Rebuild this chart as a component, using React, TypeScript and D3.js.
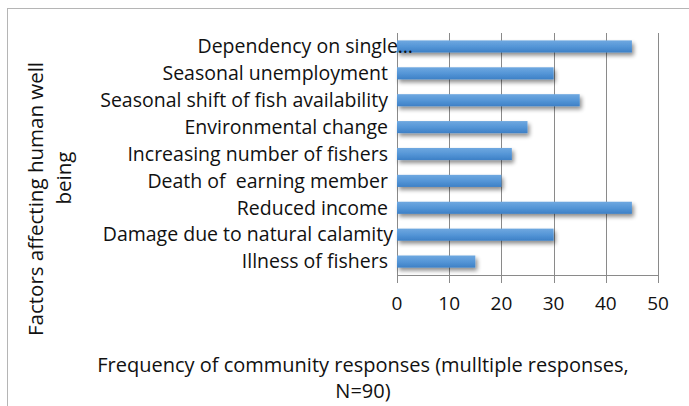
import React from "react";
import * as d3 from "d3";

// Factors (top to bottom) and number of community responses for each
const factors = [
  "Dependency on single\u2026",
  "Seasonal unemployment ",
  "Seasonal shift of fish availability ",
  "Environmental change ",
  "Increasing number of fishers ",
  "Death of  earning member ",
  "Reduced income ",
  "Damage due to natural calamity",
  "Illness of fishers ",
];
const responses = [45, 30, 35, 25, 22, 20, 45, 30, 15];
const xTicks = [0, 10, 20, 30, 40, 50];
const xTitle = ["Frequency of community responses (mulltiple responses,", "N=90)"];
const yTitle = ["Factors affecting human well", "being"];

const W = 689;
const H = 406;
const FONT = "'Open Sans', 'Noto Sans', sans-serif";

export default function App() {
  const x = d3.scaleLinear().domain([0, 50]).range([397, 658]);
  const y = d3.scaleBand<string>().domain(factors).range([33, 275]).paddingInner(0.55).paddingOuter(0.275);
  const grid = "#8a8a8a";

  return (
    <svg width={W} height={H} style={{ position: "absolute", left: 0, top: 0, background: "#fff" }}>
      <defs>
        <linearGradient id="barFill" x1="0" y1="0" x2="0" y2="1">
          <stop offset="0" stopColor="#6fa8e0" />
          <stop offset="0.5" stopColor="#5596d7" />
          <stop offset="1" stopColor="#3d80c6" />
        </linearGradient>
        <filter id="barShadow" x="-10%" y="-40%" width="120%" height="220%">
          <feGaussianBlur in="SourceAlpha" stdDeviation="2" />
          <feOffset dx="2" dy="3" result="off" />
          <feComponentTransfer>
            <feFuncA type="linear" slope="0.45" />
          </feComponentTransfer>
          <feMerge>
            <feMergeNode />
            <feMergeNode in="SourceGraphic" />
          </feMerge>
        </filter>
      </defs>

      {/* chart area border */}
      <rect x={7.5} y={8.5} width={W + 20} height={H + 20} fill="none" stroke="#b5b5b5" strokeWidth={1} />

      {/* vertical gridlines */}
      {xTicks.map((t) => (
        <line key={"g" + t} x1={Math.round(x(t)) + 0.5} x2={Math.round(x(t)) + 0.5} y1={33} y2={283} stroke={grid} strokeWidth={1} />
      ))}
      {/* bottom axis line */}
      <line x1={x(0)} x2={x(50) + 0.5} y1={275.5} y2={275.5} stroke={grid} strokeWidth={1} />

      {/* bars */}
      {factors.map((f, i) => (
        <rect
          key={f}
          x={x(0)}
          y={y(f)!}
          width={x(responses[i]) - x(0)}
          height={y.bandwidth()}
          fill="url(#barFill)"
          filter="url(#barShadow)"
        />
      ))}

      {/* category labels */}
      {factors.map((f) => (
        <text
          key={"l" + f}
          x={f.endsWith("\u2026") ? 413 : 393}
          y={y(f)! + y.bandwidth() / 2}
          dy="0.35em"
          textAnchor="end"
          fontFamily={FONT}
          fontSize={19.5}
          fill="#111"
          style={{ whiteSpace: "pre" }}
        >
          {f}
        </text>
      ))}

      {/* tick labels */}
      {xTicks.map((t) => (
        <text key={"t" + t} x={x(t)} y={303} dy="0.35em" textAnchor="middle" fontFamily={FONT} fontSize={19} fill="#111">
          {t}
        </text>
      ))}

      {/* axis titles */}
      <text x={363} y={372} textAnchor="middle" fontFamily={FONT} fontSize={20} fill="#111">
        {xTitle[0]}
      </text>
      <text x={363} y={398} textAnchor="middle" fontFamily={FONT} fontSize={20} fill="#111">
        {xTitle[1]}
      </text>
      <text transform="translate(43,199) rotate(-90)" textAnchor="middle" fontFamily={FONT} fontSize={20.5} fill="#111">
        {yTitle[0]}
      </text>
      <text transform="translate(71,178) rotate(-90)" textAnchor="middle" fontFamily={FONT} fontSize={20.5} fill="#111">
        {yTitle[1]}
      </text>
    </svg>
  );
}
